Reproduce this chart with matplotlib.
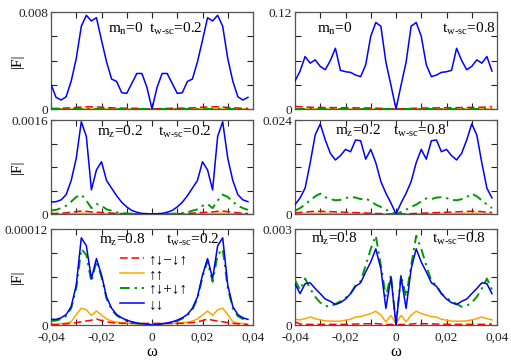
import numpy as np
import matplotlib
matplotlib.use("Agg")
import matplotlib.pyplot as plt
from matplotlib.lines import Line2D

plt.rcParams['font.family'] = ['Liberation Serif', 'DejaVu Serif']
plt.rcParams['mathtext.fontset'] = 'custom'
plt.rcParams['mathtext.rm'] = 'Liberation Serif'
plt.rcParams['mathtext.it'] = 'Liberation Serif:italic'

# frequency grid (omega)
omega = np.round(np.arange(-0.04, 0.0381, 0.002), 4)

# ---- panel (a): m_n=0, t=0.2  (units 1e-3)
a_blue = np.array([2.03, 0.96, 0.74, 1.01, 2.3, 4.16, 6.82, 7.73, 7.26, 7.53, 5.67, 3.89, 2.47, 2.27, 1.34, 1.29, 2.11, 2.93, 2.93, 1.78,
                   0.0,
                   1.78, 2.93, 2.93, 2.11, 1.29, 1.34, 2.27, 2.47, 3.89, 5.67, 7.53, 7.26, 7.73, 6.82, 4.16, 2.3, 1.01, 0.74, 0.96]) * 1e-3
a_red = np.array([0.05, 0.05, 0.06, 0.08, 0.1, 0.13, 0.16, 0.18, 0.18, 0.17, 0.15, 0.12, 0.1, 0.08, 0.07, 0.06, 0.06, 0.05, 0.04, 0.02,
                  0.0,
                  0.02, 0.04, 0.05, 0.06, 0.06, 0.07, 0.08, 0.1, 0.12, 0.15, 0.17, 0.18, 0.18, 0.16, 0.13, 0.1, 0.08, 0.06, 0.05]) * 1e-3
a_orange = np.zeros(40)
a_green = np.zeros(40)

# ---- panel (b): m_n=0, t=0.8  (units 1e-2)
b_blue = np.array([3.47, 4.69, 6.49, 5.67, 6.08, 5.27, 4.86, 6.0, 7.51, 4.78, 4.61, 4.53, 4.2, 4.0, 5.47, 9.0, 10.7, 10.24, 5.8, 2.94,
                   0.0,
                   2.94, 5.8, 10.24, 10.7, 9.0, 5.47, 4.0, 4.2, 4.53, 4.61, 4.78, 7.51, 6.0, 4.86, 5.27, 6.08, 5.67, 6.49, 4.69]) * 1e-2
b_red = np.array([0.3, 0.28, 0.25, 0.22, 0.2, 0.2, 0.18, 0.18, 0.17, 0.16, 0.15, 0.15, 0.14, 0.14, 0.13, 0.12, 0.1, 0.08, 0.05, 0.03,
                  0.0,
                  0.03, 0.05, 0.08, 0.1, 0.12, 0.13, 0.14, 0.14, 0.15, 0.15, 0.16, 0.17, 0.18, 0.18, 0.2, 0.2, 0.22, 0.25, 0.28]) * 1e-2
b_orange = np.zeros(40)
b_green = np.zeros(40)

# ---- panel (c): m_z=0.2, t=0.2  (units 1e-4)
c_blue = np.array([2.04, 2.1, 2.4, 3.3, 5.7, 9.5, 15.7, 13.2, 4.1, 7.5, 8.9, 5.7, 4.4, 3.1, 2.0, 1.2, 0.6, 0.3, 0.1, 0.06,
                   0.0,
                   0.06, 0.1, 0.3, 0.6, 1.2, 2.0, 3.1, 4.4, 5.7, 8.9, 7.5, 4.1, 13.2, 15.7, 9.5, 5.7, 3.3, 2.4, 2.1]) * 1e-4
c_green = np.array([0.6, 0.7, 1.0, 1.4, 2.1, 2.9, 3.3, 2.3, 1.0, 1.7, 1.4, 0.8, 0.56, 0.28, 0.17, 0.1, 0.05, 0.03, 0.01, 0.0,
                    0.0,
                    0.0, 0.01, 0.03, 0.05, 0.1, 0.17, 0.28, 0.56, 0.8, 1.4, 1.7, 1.0, 2.3, 3.3, 2.9, 2.1, 1.4, 1.0, 0.7]) * 1e-4
c_red = np.array([0.1, 0.1, 0.15, 0.2, 0.3, 0.4, 0.5, 0.45, 0.35, 0.3, 0.25, 0.2, 0.15, 0.1, 0.07, 0.05, 0.03, 0.02, 0.01, 0.005,
                  0.0,
                  0.005, 0.01, 0.02, 0.03, 0.05, 0.07, 0.1, 0.15, 0.2, 0.25, 0.3, 0.35, 0.45, 0.5, 0.4, 0.3, 0.2, 0.15, 0.1]) * 1e-4
c_orange = np.array([0.02, 0.02, 0.03, 0.04, 0.06, 0.1, 0.15, 0.12, 0.06, 0.09, 0.08, 0.05, 0.04, 0.03, 0.02, 0.01, 0.01, 0.0, 0.0, 0.0,
                     0.0,
                     0.0, 0.0, 0.0, 0.01, 0.01, 0.02, 0.03, 0.04, 0.05, 0.08, 0.09, 0.06, 0.12, 0.15, 0.1, 0.06, 0.04, 0.03, 0.02]) * 1e-4

# ---- panel (d): m_z=0.2, t=0.8  (units 1e-3)
d_blue = np.array([2.37, 4.1, 6.6, 13.0, 20.2, 23.0, 18.9, 15.5, 13.8, 14.9, 16.5, 15.9, 18.9, 18.7, 14.0, 16.5, 13.1, 8.3, 5.3, 2.8,
                   0.0,
                   2.8, 5.3, 8.3, 13.1, 16.5, 14.0, 18.7, 18.9, 15.9, 16.5, 14.9, 13.8, 15.5, 18.9, 23.0, 20.2, 13.0, 6.6, 4.1]) * 1e-3
d_green = np.array([0.85, 1.5, 2.4, 3.5, 4.5, 5.2, 4.3, 3.8, 3.5, 3.6, 4.1, 4.3, 4.2, 3.8, 4.0, 3.2, 2.4, 1.8, 1.1, 0.5,
                    0.0,
                    0.5, 1.1, 1.8, 2.4, 3.2, 4.0, 3.8, 4.2, 4.3, 4.1, 3.6, 3.5, 3.8, 4.3, 5.2, 4.5, 3.5, 2.4, 1.5]) * 1e-3
d_red = np.array([0.3, 0.4, 0.5, 0.6, 0.7, 0.7, 0.65, 0.6, 0.55, 0.5, 0.45, 0.4, 0.35, 0.3, 0.25, 0.2, 0.15, 0.1, 0.05, 0.02,
                  0.0,
                  0.02, 0.05, 0.1, 0.15, 0.2, 0.25, 0.3, 0.35, 0.4, 0.45, 0.5, 0.55, 0.6, 0.65, 0.7, 0.7, 0.6, 0.5, 0.4]) * 1e-3
d_orange = np.array([0.1, 0.1, 0.12, 0.15, 0.18, 0.2, 0.18, 0.15, 0.13, 0.12, 0.12, 0.12, 0.1, 0.1, 0.08, 0.07, 0.05, 0.04, 0.02, 0.01,
                     0.0,
                     0.01, 0.02, 0.04, 0.05, 0.07, 0.08, 0.1, 0.1, 0.12, 0.12, 0.12, 0.13, 0.15, 0.18, 0.2, 0.18, 0.15, 0.12, 0.1]) * 1e-3

# ---- panel (e): m_z=0.8, t=0.2  (units 1e-5)
e_blue = np.array([0.71, 0.7, 0.9, 1.3, 2.3, 5.0, 10.9, 9.9, 5.8, 8.3, 6.25, 3.5, 2.1, 1.3, 0.9, 0.6, 0.4, 0.25, 0.17, 0.08,
                   0.0,
                   0.08, 0.17, 0.25, 0.4, 0.6, 0.9, 1.3, 2.1, 3.5, 6.25, 8.3, 5.8, 9.9, 10.9, 5.0, 2.3, 1.3, 0.9, 0.7]) * 1e-5
e_green = np.array([0.5, 0.55, 0.75, 1.1, 2.1, 4.6, 9.5, 8.75, 5.4, 8.0, 6.0, 3.3, 1.9, 1.2, 0.8, 0.5, 0.35, 0.2, 0.12, 0.05,
                    0.0,
                    0.05, 0.12, 0.2, 0.35, 0.5, 0.8, 1.2, 1.9, 3.3, 6.0, 8.0, 5.4, 8.75, 9.5, 4.6, 2.1, 1.1, 0.75, 0.55]) * 1e-5
e_orange = np.array([0.1, 0.1, 0.17, 0.25, 0.4, 1.3, 2.1, 1.9, 1.2, 1.75, 1.25, 0.75, 0.5, 0.35, 0.3, 0.25, 0.2, 0.15, 0.12, 0.1,
                     0.1,
                     0.1, 0.12, 0.15, 0.2, 0.25, 0.3, 0.35, 0.5, 0.75, 1.25, 1.75, 1.2, 1.9, 2.1, 1.3, 0.4, 0.25, 0.17, 0.1]) * 1e-5
e_red = np.array([0.05, 0.05, 0.1, 0.15, 0.2, 0.3, 0.4, 0.5, 0.6, 0.75, 0.55, 0.4, 0.3, 0.25, 0.2, 0.2, 0.2, 0.2, 0.2, 0.2,
                  0.2,
                  0.2, 0.2, 0.2, 0.2, 0.2, 0.2, 0.25, 0.3, 0.4, 0.55, 0.75, 0.6, 0.5, 0.4, 0.3, 0.2, 0.15, 0.1, 0.05]) * 1e-5

# ---- panel (f): m_z=0.8, t=0.8  (units 1e-4)
f_blue = np.array([12.9, 9.8, 12.9, 13.2, 11.4, 9.8, 8.1, 7.4, 6.4, 7.0, 8.1, 9.8, 12.1, 13.2, 16.6, 19.7, 23.8, 17.6, 5.2, 15.0,
                   0.0,
                   15.0, 5.2, 17.6, 23.8, 19.7, 16.6, 13.2, 12.1, 9.8, 8.1, 7.0, 6.4, 7.4, 8.1, 9.8, 11.4, 13.2, 12.9, 9.8]) * 1e-4
f_green = np.array([14.0, 11.0, 14.5, 11.4, 8.8, 7.0, 6.0, 5.7, 6.6, 7.4, 8.5, 9.8, 12.4, 13.7, 18.6, 23.8, 27.9, 18.6, 8.8, 15.7,
                    0.0,
                    15.7, 8.8, 18.6, 27.9, 23.8, 18.6, 13.7, 12.4, 9.8, 8.5, 7.4, 6.6, 5.7, 6.0, 7.0, 8.8, 11.4, 14.5, 11.0]) * 1e-4
f_orange = np.array([1.8, 1.6, 2.0, 2.5, 2.0, 1.6, 1.3, 1.2, 1.2, 1.2, 1.5, 1.8, 2.5, 2.6, 3.1, 3.6, 4.3, 3.1, 1.0, 3.0,
                     0.5,
                     3.0, 1.0, 3.1, 4.3, 3.6, 3.1, 2.6, 2.5, 1.8, 1.5, 1.2, 1.2, 1.2, 1.3, 1.6, 2.0, 2.5, 2.0, 1.6]) * 1e-4
f_red = np.array([1.0, 0.3, 0.2, 0.2, 0.2, 0.2, 0.2, 0.2, 0.2, 0.2, 0.2, 0.25, 0.3, 0.35, 0.4, 0.4, 0.45, 0.3, 0.1, 0.2,
                  0.0,
                  0.2, 0.1, 0.3, 0.45, 0.4, 0.4, 0.35, 0.3, 0.25, 0.2, 0.2, 0.2, 0.2, 0.2, 0.2, 0.2, 0.2, 0.2, 0.3]) * 1e-4

y_max = [0.008, 0.12, 0.0016, 0.024, 0.00012, 0.003]
y_max_labels = ["0.008", "0.12", "0.0016", "0.024", "0.00012", "0.003"]
m_labels = [r"m$_\mathrm{n}$=0", r"m$_\mathrm{n}$=0", r"m$_\mathrm{z}$=0.2",
            r"m$_\mathrm{z}$=0.2", r"m$_\mathrm{z}$=0.8", r"m$_\mathrm{z}$=0.8"]
t_labels = [r"t$_\mathrm{w\text{-}sc}$=0.2", r"t$_\mathrm{w\text{-}sc}$=0.8",
            r"t$_\mathrm{w\text{-}sc}$=0.2", r"t$_\mathrm{w\text{-}sc}$=0.8",
            r"t$_\mathrm{w\text{-}sc}$=0.2", r"t$_\mathrm{w\text{-}sc}$=0.8"]
x_ticks = [-0.04, -0.03, -0.02, -0.01, 0.0, 0.01, 0.02, 0.03, 0.04]
x_tick_labels = ["-0,04", "", "-0,02", "", "0", "", "0,02", "", "0,04"]
legend_labels = ["↑↓−↓↑", "↑↑", "↑↓+↓↑", "↓↓"]

series = [
    (a_red, a_orange, a_green, a_blue),
    (b_red, b_orange, b_green, b_blue),
    (c_red, c_orange, c_green, c_blue),
    (d_red, d_orange, d_green, d_blue),
    (e_red, e_orange, e_green, e_blue),
    (f_red, f_orange, f_green, f_blue),
]

RED, ORANGE, GREEN, BLUE = "#ff0000", "#ffa500", "#009a00", "#0000ff"

fig = plt.figure(figsize=(5.11, 3.62), dpi=100)
lefts = [51 / 511, 295 / 511]
W = 202 / 511
rows = [(12, 109), (120, 214), (229, 325)]

axes = []
for i in range(6):
    r, c = divmod(i, 2)
    top, bot = rows[r]
    ax = fig.add_axes([lefts[c], 1 - bot / 362, W, (bot - top) / 362])
    axes.append(ax)
    red, orange, green, blue = series[i]
    ax.plot(omega, orange, color=ORANGE, lw=1.1, zorder=2)
    ax.plot(omega, red, color=RED, lw=1.1, dashes=(5, 2.5), zorder=3)
    ax.plot(omega, green, color=GREEN, lw=1.4, dashes=(5, 2.5, 1.2, 2.5), zorder=4)
    ax.plot(omega, blue, color=BLUE, lw=1.1, zorder=5)
    ax.set_xlim(-0.04, 0.04)
    ax.set_ylim(0, y_max[i])
    ym = y_max[i]
    ax.set_yticks([0, ym / 4, ym / 2, 3 * ym / 4, ym])
    ax.set_yticklabels(["0", "", "", "", y_max_labels[i]])
    ax.set_xticks(x_ticks)
    if r == 2:
        ax.set_xticklabels(x_tick_labels)
        ax.set_xlabel("ω", fontsize=12, labelpad=0)
    else:
        ax.set_xticklabels([])
    ax.tick_params(direction="in", length=4, width=0.8, top=True, right=True,
                   labelsize=9.6, pad=2, colors="#222222")
    ax.tick_params(axis="x", pad=5)
    for s in ax.spines.values():
        s.set_linewidth(0.9)
        s.set_color("#555555")
    if c == 0:
        ax.set_ylabel("|F|", fontsize=11)
        ax.yaxis.set_label_coords(-0.135, 0.5)

# annotations (axes-fraction positions, baseline)
ann = [
    ((0.28, 0.78), (0.485, 0.78)),
    ((0.11, 0.78), (0.73, 0.78)),
    ((0.23, 0.83), (0.53, 0.83)),
    ((0.20, 0.84), (0.485, 0.84)),
    ((0.24, 0.85), (0.57, 0.85)),
    ((0.08, 0.855), (0.68, 0.855)),
]
for i, ax in enumerate(axes):
    (mx, my), (tx, ty) = ann[i]
    ax.text(mx, my, m_labels[i], transform=ax.transAxes, fontsize=11, ha="left", va="baseline")
    ax.text(tx, ty, t_labels[i], transform=ax.transAxes, fontsize=11, ha="left", va="baseline")

handles = [
    Line2D([], [], color=RED, lw=1.1, dashes=(5, 2.5)),
    Line2D([], [], color=ORANGE, lw=1.1),
    Line2D([], [], color=GREEN, lw=1.4, dashes=(5, 2.5, 1.2, 2.5)),
    Line2D([], [], color=BLUE, lw=1.1),
]
axes[4].legend(handles, legend_labels, loc="upper left", bbox_to_anchor=(0.34, 0.755),
               frameon=False, fontsize=11, handlelength=1.6, handletextpad=0.3,
               labelspacing=0.08, borderpad=0, borderaxespad=0)

fig.savefig("out.png", dpi=100)
